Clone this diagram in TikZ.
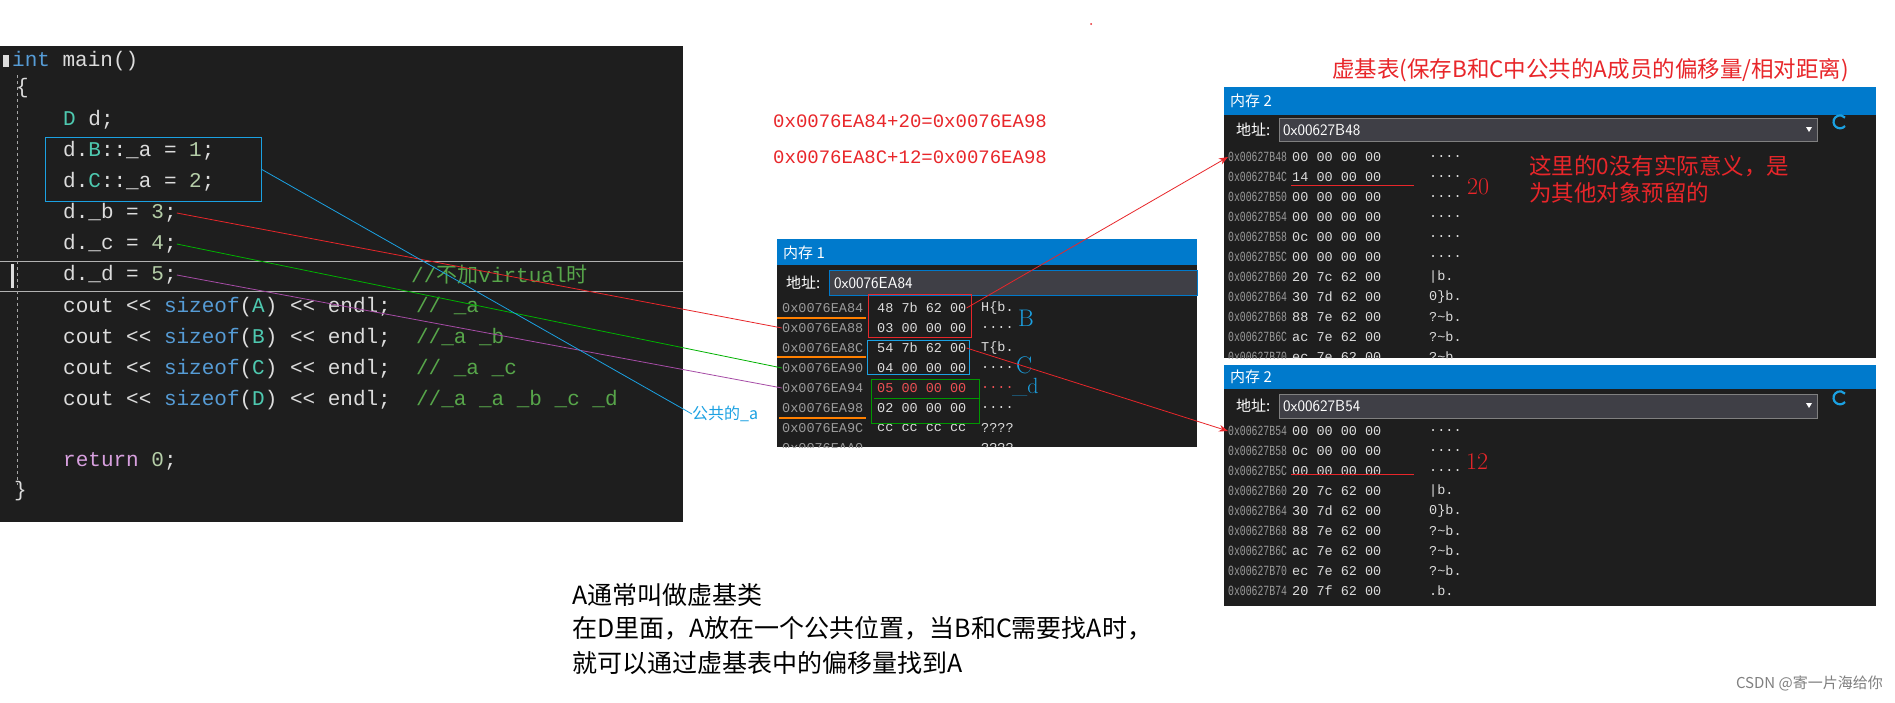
\documentclass[tikz,border=0pt]{standalone}
\usepackage{fontspec}
\setmonofont{Liberation Mono}
\newfontfamily\cjk{Noto Sans CJK SC}
\newfontfamily\narrowmono[FakeStretch=0.7]{Liberation Mono}
\usetikzlibrary{arrows.meta}
\definecolor{bg}{HTML}{1E1E1E}
\definecolor{kw}{HTML}{569CD6}
\definecolor{tx}{HTML}{DCDCDC}
\definecolor{ty}{HTML}{4EC9B0}
\definecolor{cm}{HTML}{57A64A}
\definecolor{nm}{HTML}{B5CEA8}
\definecolor{rt}{HTML}{D8A0DF}
\definecolor{vsblue}{HTML}{007ACC}
\definecolor{addr}{HTML}{9B9B9B}
\definecolor{fld}{HTML}{3F3F46}
\definecolor{rd}{HTML}{E8262A}
\definecolor{cyanl}{HTML}{1BA1E2}
\newcommand{\K}[1]{\textcolor{kw}{#1}}
\newcommand{\T}[1]{\textcolor{ty}{#1}}
\newcommand{\C}[1]{\textcolor{cm}{#1}}
\newcommand{\N}[1]{\textcolor{nm}{#1}}
\newcommand{\dd}{....}
\newcommand{\tl}{?\textasciitilde b.}
\tikzset{
 code/.style={anchor=west,inner sep=0pt,text=tx,font=\fontsize{21}{21}\ttfamily},
 mem/.style={anchor=west,inner sep=0pt,text=tx,font=\fontsize{13.5}{13.5}\ttfamily},
 memaddr/.style={mem,text=addr},
 memaddrn/.style={anchor=west,inner sep=0pt,text=addr,font=\fontsize{14}{14}\narrowmono},
 title/.style={anchor=west,inner sep=0pt,text=white,font=\fontsize{15}{15}\cjk},
 redtxt/.style={anchor=west,inner sep=0pt,text=rd,font=\fontsize{22.5}{22.5}\cjk},
 btxt/.style={anchor=west,inner sep=0pt,font=\fontsize{25}{25}\cjk},
 conn/.style={line width=0.8pt},
}
\begin{document}
\begin{tikzpicture}[x=1pt,y=-1pt]
\useasboundingbox[fill=white] (0,0) rectangle (1895,702);
% code panel
\fill[bg] (0,46) rectangle (683,522);
\draw[gray!60,line width=0.8pt] (0,261) -- (683,261) (0,291) -- (683,291);
\draw[gray!70,dashed] (17,75) -- (17,485);
\fill[tx] (3,55) rectangle (9,67);
\fill[tx] (11,264) rectangle (14,288);
\node[code] (l1) at (12,61) {\K{int} main()};
\node[code] (l2) at (16,88) {\{};
\node[code] (l3) at (63,120) {\T{D} d;};
\node[code] (l4) at (63,151) {d.\T{B}::\_a = \N{1};};
\node[code] (l5) at (63,182) {d.\T{C}::\_a = \N{2};};
\node[code] (l6) at (63,213) {d.\_b = \N{3};};
\node[code] (l7) at (63,244) {d.\_c = \N{4};};
\node[code] (l8) at (63,275) {d.\_d = \N{5};};
\node[code] (c8) at (411,275) {\C{//{\cjk 不加}virtual{\cjk 时}}};
\node[code] (l9) at (63,307) {cout << \K{sizeof}(\T{A}) << endl;~~\C{//~\_a}};
\node[code] (l10) at (63,338) {cout << \K{sizeof}(\T{B}) << endl;~~\C{//\_a \_b}};
\node[code] (l11) at (63,369) {cout << \K{sizeof}(\T{C}) << endl;~~\C{//~\_a \_c}};
\node[code] (l12) at (63,400) {cout << \K{sizeof}(\T{D}) << endl;~~\C{//\_a \_a \_b \_c \_d}};
\node[code] (l14) at (63,461) {\textcolor{rt}{return} \N{0};};
\node[code] (l15) at (14,491) {\}};
\draw[cyanl,line width=1pt] (45,137) rectangle (261,201);
\coordinate (bx) at (261,169);
% memory 1
\fill[bg] (777,239) rectangle (1197,447);
\fill[vsblue] (777,239) rectangle (1197,265);
\node[title] (t1) at (783,253) {内存 1};
\fill[fld] (829,270) rectangle (1197,295);
\draw[vsblue] (829,270) rectangle (1197,295);
\node[title] (a1l) at (786,283) {地址:};
\node[title,font=\fontsize{16}{16}\sffamily] (a1) at (834,283) {0x0076EA84};
\foreach \i/\a/\b/\c in {0/84/48 7b 62 00/H\{b.,1/88/03 00 00 00/\dd,2/8C/54 7b 62 00/T\{b.,3/90/04 00 00 00/\dd,5/98/02 00 00 00/\dd,6/9C/cc cc cc cc/????}{
 \node[memaddr] (m1a\i) at (782,308+20*\i) {0x0076EA\a};
 \node[mem] (m1b\i) at (877,308+20*\i) {\b};
 \node[mem] (m1c\i) at (981,308+20*\i) {\c};
}
\node[memaddr] (m1a4) at (782,388) {0x0076EA94};
\node[mem,text=rd!80!white] (m1b4) at (877,388) {05 00 00 00};
\node[mem,text=rd!80!white] (m1c4) at (981,388) {\dd};
\begin{scope}
\clip (777,239) rectangle (1197,447);
\node[memaddr] at (782,448) {0x0076EAA0};
\node[mem] at (981,448) {????};
\end{scope}
\draw[rd] (868,294) rectangle (971,337);
\draw[cyanl] (867,340) rectangle (969,374);
\draw[green!60!black,line width=0.8pt] (871,379) rectangle (979,423) (874,398) -- (979,398);
\draw[orange,line width=1.5pt] (777,318) -- (866,318) (777,357) -- (866,357) (779,418) -- (866,418);
\node[anchor=west,inner sep=0pt,text=cyanl,font=\fontsize{24}{24}\rmfamily] (lb) at (1018,318) {B};
\node[anchor=west,inner sep=0pt,text=cyanl,font=\fontsize{24}{24}\rmfamily] (lc) at (1016,365) {C};
\node[anchor=west,inner sep=0pt,text=cyanl,font=\fontsize{22}{22}\rmfamily] (ld) at (1012,387) {\_d};
% memory 2 top
\fill[bg] (1224,87) rectangle (1876,358);
\fill[vsblue] (1224,87) rectangle (1876,115);
\node[title] (t2) at (1230,101) {内存 2};
\fill[fld] (1279,118) rectangle (1817,141);
\draw[gray] (1279,118) rectangle (1817,141);
\node[title] (a2l) at (1236,130) {地址:};
\node[title,font=\fontsize{16}{16}\sffamily] (a2) at (1283,130) {0x00627B48};
\fill[white] (1806,127) -- (1812,127) -- (1809,132) -- cycle;
\draw[cyanl,line width=2.2pt] (1845,126) arc (40:320:6.5);
\begin{scope}
\clip (1224,115) rectangle (1876,358);
\foreach \i/\a/\b/\c in {0/48/00 00 00 00/\dd,1/4C/14 00 00 00/\dd,2/50/00 00 00 00/\dd,3/54/00 00 00 00/\dd,4/58/0c 00 00 00/\dd,5/5C/00 00 00 00/\dd,6/60/20 7c 62 00/ |b.,7/64/30 7d 62 00/0\}b.,8/68/88 7e 62 00/\tl,9/6C/ac 7e 62 00/\tl,10/70/ec 7e 62 00/\tl}{
 \node[memaddrn] (m2a\i) at (1228,157+20*\i) {0x00627B\a};
 \node[mem] (m2b\i) at (1292,157+20*\i) {\b};
 \node[mem] (m2c\i) at (1429,157+20*\i) {\c};
}
\end{scope}
\draw[rd,line width=1pt] (1291,185) -- (1414,185);
\node[redtxt,font=\fontsize{24}{24}\rmfamily] (n20) at (1467,187) {20};
\node[redtxt] (r1) at (1529,166) {这里的0没有实际意义，是};
\node[redtxt] (r2) at (1529,193) {为其他对象预留的};
% memory 2 bottom
\fill[bg] (1224,365) rectangle (1876,606);
\fill[vsblue] (1224,365) rectangle (1876,389);
\node[title] (t3) at (1230,377) {内存 2};
\fill[fld] (1279,394) rectangle (1817,418);
\draw[gray] (1279,394) rectangle (1817,418);
\node[title] (a3l) at (1236,406) {地址:};
\node[title,font=\fontsize{16}{16}\sffamily] (a3) at (1283,406) {0x00627B54};
\fill[white] (1806,403) -- (1812,403) -- (1809,408) -- cycle;
\draw[cyanl,line width=2.2pt] (1845,402) arc (40:320:6.5);
\foreach \i/\a/\b/\c in {0/54/00 00 00 00/\dd,1/58/0c 00 00 00/\dd,2/5C/00 00 00 00/\dd,3/60/20 7c 62 00/ |b.,4/64/30 7d 62 00/0\}b.,5/68/88 7e 62 00/\tl,6/6C/ac 7e 62 00/\tl,7/70/ec 7e 62 00/\tl,8/74/20 7f 62 00/ .b.}{
 \node[memaddrn] (m3a\i) at (1228,431+20*\i) {0x00627B\a};
 \node[mem] (m3b\i) at (1292,431+20*\i) {\b};
 \node[mem] (m3c\i) at (1429,431+20*\i) {\c};
}
\draw[rd,line width=1pt] (1291,474) -- (1414,474);
\node[redtxt,font=\fontsize{24}{24}\rmfamily] (n12) at (1466,462) {12};
% red annotations
\node[redtxt] (vt) at (1332,70) {虚基表(保存B和C中公共的A成员的偏移量/相对距离)};
\node[redtxt,font=\fontsize{19}{19}\ttfamily] (f1) at (773,121) {0x0076EA84+20=0x0076EA98};
\node[redtxt,font=\fontsize{19}{19}\ttfamily] (f2) at (773,157) {0x0076EA8C+12=0x0076EA98};
\fill[rd] (1091,24) circle (1);
% bottom text
\node[btxt] (b1) at (572,595) {A通常叫做虚基类};
\node[btxt] (b2) at (572,628) {在D里面，A放在一个公共位置，当B和C需要找A时，};
\node[btxt] (b3) at (572,663) {就可以通过虚基表中的偏移量找到A};
\node[anchor=east,inner sep=0pt,text=gray,font=\fontsize{15}{15}\cjk] (wm) at (1883,683) {CSDN @寄一片海给你};
% connectors
\node[anchor=west,inner sep=0pt,text=cyanl,font=\fontsize{16}{16}\cjk] (gg) at (692,414) {公共的\_a};
\draw[conn,rd] (l6.east) -- (m1a1.west);
\draw[conn,green!70!black] (l7.east) -- (m1a3.west);
\draw[conn,violet!70!white] (l8.east) -- (m1a4.west);
\draw[conn,cyanl] (bx) -- (gg.west);
\draw[conn,rd,-{Stealth[length=9pt]}] (m1b0.east) -- (m2a0.west);
\draw[conn,rd,-{Stealth[length=9pt]}] (m1b2.east) -- (m3a0.west);
\end{tikzpicture}
\end{document}
